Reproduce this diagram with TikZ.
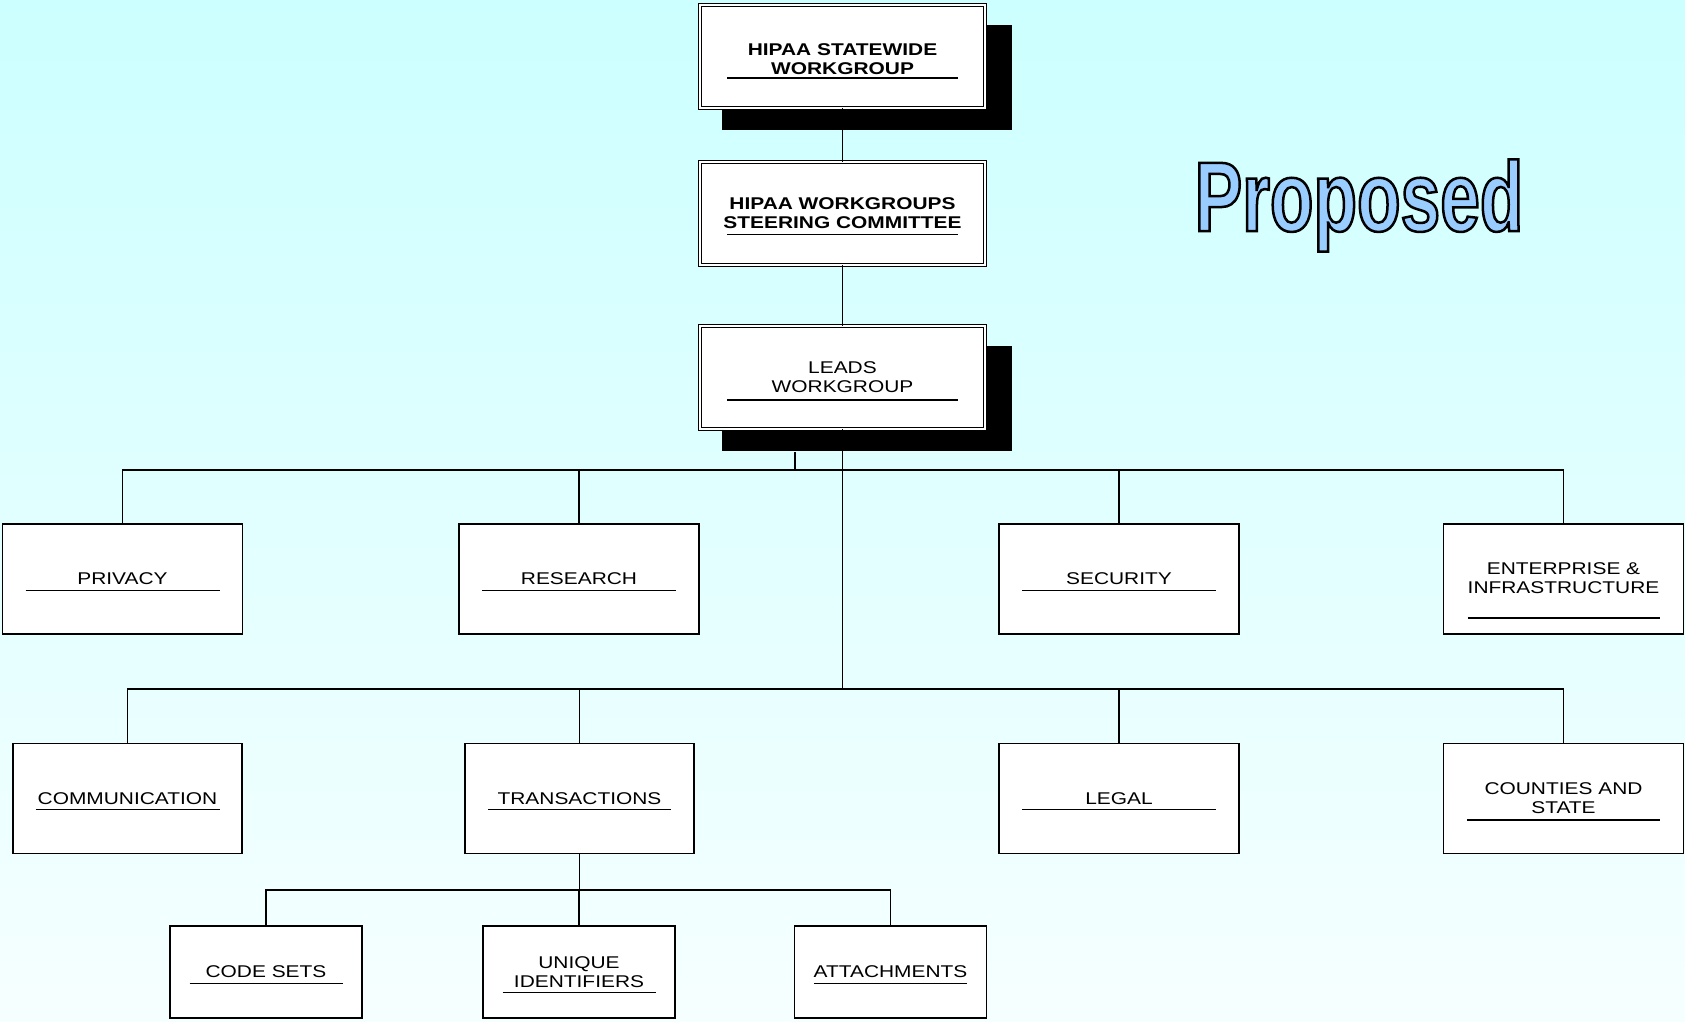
\documentclass[tikz,border=0pt]{standalone}
\usepackage{fontspec}
\setmainfont{Liberation Sans}[FakeStretch=1.23]
\newfontfamily\propfont{Liberation Sans}[FakeStretch=0.72]
\usepackage{xcolor}
\usepackage{tikz}
\usetikzlibrary{shadows}

\definecolor{bgtop}{RGB}{204,255,255}
\definecolor{bgbot}{RGB}{246,255,255}
\definecolor{propblue}{RGB}{153,204,255}

\newcommand{\boxfont}{\fontsize{17pt}{19pt}\selectfont}
\newcommand{\topstrut}[1][18pt]{\rule{0pt}{#1}}
\newcommand{\barline}[2][-12.5pt]{\\[#1]\rule{#2}{1.3pt}}

\tikzset{
  unit/.style={draw, fill=white, line width=1.4pt, minimum width=240pt,
    minimum height=110pt, align=center, inner sep=0pt, font=\boxfont},
  leafunit/.style={unit, minimum width=192pt, minimum height=92pt},
  topunit/.style={draw, double=white, double distance=1.8pt, line width=0.9pt,
    fill=white, minimum width=285pt, minimum height=103pt, align=center,
    inner sep=0pt, font=\boxfont},
  shadowed/.style={drop shadow={shadow xshift=24pt, shadow yshift=-21pt,
    shadow scale=1.02, opacity=1, fill=black}},
  link/.style={line width=1.5pt},
}

\begin{document}
\begin{tikzpicture}[x=1pt, y=-1pt]
\useasboundingbox (0,0) rectangle (1685,1021);
\shade[top color=bgtop, bottom color=bgbot] (0,0) rectangle (1685,1021);

% top of the chart
\node[topunit, shadowed, font={\boxfont\bfseries}] (statewide) at (842.5,56.5)
  {\topstrut[21pt]HIPAA STATEWIDE\\WORKGROUP\barline[-15pt]{231pt}};
\node[topunit, font={\boxfont\bfseries}] (steering) at (842.5,213.5)
  {\topstrut HIPAA WORKGROUPS\\STEERING COMMITTEE\barline{231pt}};
\node[topunit, shadowed] (leads) at (842.5,377.5)
  {\topstrut[19pt]LEADS\\WORKGROUP\barline[-10.5pt]{231pt}};

% first row
\node[unit] (privacy)    at (122.5,579)  {\topstrut PRIVACY\barline{194pt}};
\node[unit] (research)   at (579,579)    {\topstrut RESEARCH\barline{194pt}};
\node[unit] (security)   at (1119,579)   {\topstrut SECURITY\barline{194pt}};
\node[unit] (enterprise) at (1563.5,579)
  {\topstrut[35pt]ENTERPRISE \&\\INFRASTRUCTURE\barline[6.5pt]{192pt}};

% second row
\node[unit, minimum width=229pt] (comm)  at (127.5,798.5) {\topstrut COMMUNICATION\barline[-13.5pt]{184pt}};
\node[unit, minimum width=229pt] (trans) at (579.5,798.5) {\topstrut TRANSACTIONS\barline[-13.5pt]{183pt}};
\node[unit] (legal)    at (1119,798.5)   {\topstrut LEGAL\barline[-13.5pt]{194pt}};
\node[unit] (counties) at (1563.5,798.5) {\topstrut COUNTIES AND\\STATE\barline[-11.5pt]{193pt}};

% third row
\node[leafunit] (codesets) at (266,972)   {\topstrut CODE SETS\barline{153pt}};
\node[leafunit] (unique)   at (579,972)   {\topstrut UNIQUE\\IDENTIFIERS\barline[-13.5pt]{153pt}};
\node[leafunit] (attach)   at (890.5,972) {\topstrut ATTACHMENTS\barline{153pt}};

\node[font={\propfont\fontsize{99pt}{99pt}\selectfont\bfseries}, text=propblue,
  anchor=base, inner sep=0pt] (proposed) at (1359,231)
  {\special{pdf:literal direct 0 0 0 RG 2.5 w 2 Tr}Proposed\special{pdf:literal direct 0 Tr}};

% connectors
\coordinate (bus1) at (0,470);
\coordinate (bus2) at (0,689);
\coordinate (bus3) at (0,890);
\coordinate (stub) at (795,452);

\draw[link] (statewide) -- (steering);
\draw[link] (steering) -- (leads);
\draw[link] (leads.south) -- (leads.south |- bus2);
\draw[link] (stub) -- (stub |- bus1);

\draw[link] (privacy.north) |- (enterprise.north |- bus1) -- (enterprise.north);
\foreach \n in {research, security}
  \draw[link] (\n.north) -- (\n.north |- bus1);

\draw[link] (comm.north) |- (counties.north |- bus2) -- (counties.north);
\foreach \n in {trans, legal}
  \draw[link] (\n.north) -- (\n.north |- bus2);

\draw[link] (trans.south) -- (trans.south |- bus3);
\draw[link] (codesets.north) |- (attach.north |- bus3) -- (attach.north);
\draw[link] (unique.north) -- (unique.north |- bus3);
\end{tikzpicture}
\end{document}
